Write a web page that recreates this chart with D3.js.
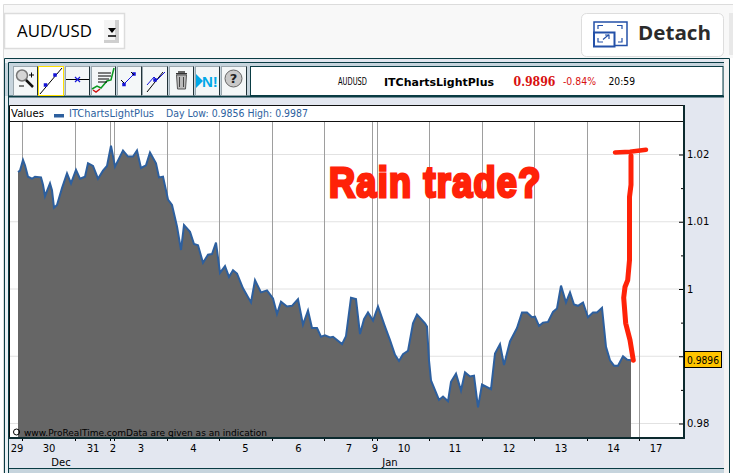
<!DOCTYPE html>
<html><head><meta charset="utf-8">
<script src="https://cdn.jsdelivr.net/npm/d3@7/dist/d3.min.js"></script>
<style>html,body{margin:0;padding:0;background:#fff;overflow:hidden}svg{display:block}</style>
</head><body><svg id="c" width="733" height="473"></svg>
<script>
const symbolName = "AUD/USD";
const tickerName = "AUDUSD";
const feedName = "ITChartsLightPlus";
const lastPrice = 0.9896;
const lastText = "0.9896";
const changeText = "-0.84%";
const timeText = "20:59";
const dayRange = "Day Low: 0.9856 High: 0.9987";
const noticeText = "www.ProRealTime.comData are given as an indication";
const annotationText = "Rain trade?";

// timeline position of each reading (one unit per bar) and its price
const bars = [0,2,5,7,10,14,17,23,25,27,32,34,36,39,44,49,53,58,62,67,70,75,80,85,89,93,97,105,110,115,119,123,128,132,138,141,145,150,154,159,163,166,172,176,180,185,190,194,198,202,207,211,215,219,225,233,237,243,249,255,259,263,269,274,280,285,290,294,299,303,307,312,315,324,328,333,338,342,346,350,355,360,367,372,377,381,385,390,395,399,407,409,411,413,421,425,430,433,438,443,447,452,456,460,464,473,477,482,486,492,499,504,509,514,517,521,525,530,535,539,543,548,552,556,560,565,570,575,579,584,588,592,596,600,605,609,613];
const prices = [1.0174,1.0176,1.0192,1.0184,1.0167,1.0164,1.0167,1.0166,1.0155,1.0138,1.0157,1.0147,1.0121,1.0125,1.0150,1.0172,1.0157,1.0177,1.0164,1.0167,1.0187,1.0183,1.0164,1.0176,1.0183,1.0213,1.0182,1.0206,1.0197,1.0197,1.0206,1.0180,1.0184,1.0203,1.0187,1.0166,1.0167,1.0133,1.0125,1.0093,1.0058,1.0095,1.0085,1.0067,1.0065,1.0039,1.0051,1.0052,1.0069,1.0024,1.0034,1.0018,1.0028,1.0023,1.0001,0.9980,1.0013,0.9995,0.9998,0.9986,0.9963,0.9981,0.9974,0.9975,0.9985,0.9947,0.9968,0.9942,0.9942,0.9929,0.9931,0.9928,0.9929,0.9918,0.9930,0.9987,0.9985,0.9933,0.9955,0.9965,0.9953,0.9974,0.9944,0.9924,0.9902,0.9893,0.9903,0.9908,0.9949,0.9962,0.9949,0.9944,0.9894,0.9864,0.9835,0.9840,0.9833,0.9862,0.9874,0.9849,0.9876,0.9870,0.9871,0.9824,0.9858,0.9851,0.9904,0.9918,0.9887,0.9922,0.9942,0.9965,0.9965,0.9958,0.9959,0.9945,0.9950,0.9951,0.9966,0.9971,1.0005,0.9980,0.9995,0.9977,0.9975,0.9980,0.9958,0.9965,0.9965,0.9972,0.9914,0.9894,0.9886,0.9886,0.9900,0.9895,0.9894];

const sessionBars = [4,57,92,96,149,201,254,306,354,359,411,464,516,569,621];
const dayLabels = ["29","30","31","2","3","4","5","6","7","9","10","11","12","13","14","17"];
const dayLabelBars = [-1,31,75,95,123,175.5,227.5,280.5,331,357,386,437,491,543,595.5,638];
const monthLabels = ["Dec","Jan"];
const monthLabelBars = [43,372];
const priceTicks = [1.02,1.01,1,0.99,0.98];
const priceTickLabels = ["1.02","1.01","1","","0.98"];
const minorTicks = [1.015,1.005,0.995,0.985];

// hand-drawn annotation, in chart units
const capBars = [597,612,628];
const capPrices = [1.0203,1.0204,1.0207];
const strokeBars = [613,613,611.5,611.5,609.7,607,605.7,607.7,612,615.3];
const strokePrices = [1.0198,1.0155,1.0137,1.0043,1.0013,1.0003,0.9987,0.9949,0.9924,0.9894];

const svg = d3.select("#c");
const UI = "'DejaVu Sans',sans-serif";
const teal = "#0a3c44";
const rect = (x,y,w,h,fill,stroke,sw) => svg.append("rect").attr("x",x).attr("y",y).attr("width",w).attr("height",h)
  .attr("fill",fill).attr("stroke",stroke||"none").attr("stroke-width",sw||0);
const text = (x,y,s,size,opt={}) => { const t = svg.append("text").attr("x",x).attr("y",y).text(s)
  .attr("font-family",opt.family||UI).attr("font-size",size).attr("fill",opt.fill||"#000")
  .attr("font-weight",opt.weight||"normal").attr("text-anchor",opt.anchor||"start");
  if(opt.len) t.attr("textLength",opt.len).attr("lengthAdjust",opt.adjust||"spacingAndGlyphs"); return t; };
const path = (d,stroke,sw,fill) => svg.append("path").attr("d",d).attr("fill",fill||"none").attr("stroke",stroke||"none").attr("stroke-width",sw||0);

// page chrome
rect(4,5,729,53,"#f8f8f8");
path("M3.5 473V4.5H733","#dcdcdc",1);
rect(729,13,4,42,"#e8e8e8");
rect(4.5,13.5,120,35,"#fff","#dcdcdc",1.5);
text(17,37,symbolName,16.5,{family:"'Open Sans',sans-serif",len:75});
rect(104,20,15,23,"#cfcfcf");
rect(104,20,11,20,"#f4f4f4");
path("M108 28h8l-4 5z","#000",0,"#000");
path("M108 36h8","#000",1.5);
// detach button
rect(581.5,13.5,142,43,"#fff","#dddddd",1).attr("rx",5);
svg.append("g").attr("fill","none").attr("stroke","#2350a8").attr("stroke-width",1.5).call(g=>{
  g.append("rect").attr("x",594).attr("y",22).attr("width",33).attr("height",23.5);
  g.append("rect").attr("x",594).attr("y",32.5).attr("width",20.5).attr("height",14).attr("fill","#fff").attr("stroke-width",2);
  g.append("path").attr("d","M598 29v-3.500h5M617 25.500h5v3.500M622 38v4h-4M598 38v4h5M603 39.500l6-5M605 35h4v4").attr("stroke-width",1.2);
});
text(638,40,"Detach",20,{family:"'Open Sans',sans-serif",weight:"bold",fill:"#2b2b2b",len:73});

// application frame
rect(4,58,725,415,"#e3e7f0");
rect(724,58,5,415,"#f3f3f3");
rect(4,58,5,415,"#eaf0f4");
rect(4,63,720,33,"#c6d4dd");
path("M4.500 473V58.500H729.500V473",teal,1);
path("M8.500 473V62.500H724",teal,1);
path("M9 96.500H724",teal,2);
rect(9,468,715,1,teal);
rect(9,469,715,4,"#c6d4dd");

// toolbar buttons
const btnX = [13,38,65,91,117,142,169,195,221], btnW = [24,25,24,24,24,25,24,24,25];
btnX.forEach((x,i)=>{
  rect(x+.5,66.5,btnW[i],29,i==1?"#fff":"#f4f7f8",i==1?"#ffe000":"#9aa7ae",1);
  if(i!=1) path(`M${x+btnW[i]+.5} 66.500V95.500`,"#22343a",1);
});
const ib = "#1414d8";
const dot = (x,y,s=3.5)=>rect(x-s/2,y-s/2,s,s,ib);
// magnifier
svg.append("circle").attr("cx",22).attr("cy",75.500).attr("r",5.5).attr("fill","#d5d5d5").attr("stroke","#777").attr("stroke-width",1.5);
path("M26 80l7 7","#111",2.5); path("M29 75h5M31.500 72.500v5M19 86h5","#000",1);
// line tools
path("M40 94L62 68","#000",1); dot(45.500,85); dot(55,75);
path("M66 79.500H89","#000",1); path("M75 77l5 5M80 77l-5 5",ib,1.2);
path("M92 89l5-3 4 2 6-7 4-1 3-12","#0a9a20",1.5);path("M93 90l3 2 4-3","#d01010",1.5);
path("M98 73h13M98 76h13M98 79h11M98 82h9","#000",1);
dot(124,84.500); dot(134,74); path("M124 84l10-10",ib,1,"none"); path("M121 80l3 3M131 72l3 3","#000",1);
path("M147 92l16-20","#000",1); path("M147 85l7-8 3 3 8-8",ib,1); dot(155,80);
// trash
rect(176,73,11,1.5,"#333");rect(178,71,7,2,"#666");
path("M176.500 75h10l-1 14h-8z","#555",1,"#bbb"); path("M179.500 77v10M183.500 77v10","#444",1);
// N!
path("M196 74v14l7-7z","none",0,"#00a8e8");
text(202,87,"N!",15,{fill:"#00a8e8",family:"'Liberation Sans',sans-serif",weight:"bold"});
// help
svg.append("circle").attr("cx",233.5).attr("cy",78.5).attr("r",8.5).attr("fill","#c9c9c9").attr("stroke","#666").attr("stroke-width",1);
text(233.5,83,"?",13,{anchor:"middle",weight:"bold",fill:"#222"});

// ticker box
rect(250.5,66.5,472.5,29,"#fff",teal,1);
text(338,85,tickerName,10,{len:29});
text(384,86,feedName,11,{weight:"bold",len:110});
text(513.5,86,lastText,12,{weight:"bold",fill:"#d81010",family:"'DejaVu Serif',serif",len:42});
text(563,85,changeText,10,{fill:"#d81010",len:33});
text(608.5,85,timeText,10,{len:26.5});

// chart box
const plotLeft=9,plotRight=684,plotTop=105,headerBottom=121,plotBottom=438;
rect(plotLeft,plotTop,plotRight-plotLeft,plotBottom-plotTop,"#fff");
const x = d3.scaleLinear().domain([0,666]).range([18,684]);
const y = d3.scaleLinear().domain([0.98,1.02]).range([423.5,154.5]);
const snap = v => Math.round(v)+.5;

// grid
svg.append("g").selectAll("line").data(priceTicks).join("line")
  .attr("x1",plotLeft+1).attr("x2",plotRight).attr("y1",d=>y(d)).attr("y2",d=>y(d))
  .attr("stroke","#e2e2e2").attr("stroke-width",1);
svg.append("g").selectAll("line").data(sessionBars).join("line")
  .attr("x1",d=>snap(x(d))).attr("x2",d=>snap(x(d))).attr("y1",headerBottom).attr("y2",plotBottom)
  .attr("stroke","#9e9e9e").attr("stroke-width",1);

// area and line
const series = bars.map((b,i)=>[b,prices[i]]);
svg.append("path").datum(series).attr("fill","#666666")
  .attr("d",d3.area().x(d=>x(d[0])).y0(plotBottom).y1(d=>y(d[1])));
svg.append("path").datum(series).attr("fill","none").attr("stroke","#2d5f9e").attr("stroke-width",2)
  .attr("d",d3.line().x(d=>x(d[0])).y(d=>y(d[1])));

// notice
svg.append("circle").attr("cx",16.5).attr("cy",432).attr("r",3).attr("fill","none").attr("stroke","#000").attr("stroke-width",1);
text(24,436,noticeText,9.5,{fill:"#000",len:243});

// frame of the plot
path(`M${plotLeft+.5} ${plotBottom}V${plotTop+.5}H${plotRight}`,"#111",1);
svg.append("line").attr("x1",plotLeft).attr("x2",plotRight).attr("y1",headerBottom+.5).attr("y2",headerBottom+.5).attr("stroke","#111");

// axes
const yAxis = d3.axisRight(y).tickValues(priceTicks).tickSize(-5).tickPadding(3)
  .tickFormat((d,i)=>priceTickLabels[i]);
const yg = svg.append("g").attr("transform",`translate(${plotRight},0)`).call(yAxis);
yg.select(".domain").remove();
yg.selectAll("text").attr("font-family",UI).attr("font-size",10).attr("fill","#000");
yg.selectAll("line").attr("stroke","#000");
const ym = svg.append("g").attr("transform",`translate(${plotRight},0)`)
  .call(d3.axisRight(y).tickValues(minorTicks).tickSize(-3).tickFormat(""));
ym.select(".domain").remove();

const xg = svg.append("g").attr("transform",`translate(0,${plotBottom})`)
  .call(d3.axisBottom(x).tickValues(sessionBars).tickSize(3).tickFormat(""));
xg.select(".domain").remove();
xg.selectAll("line").attr("stroke","#000").attr("transform",d=>`translate(${snap(x(d))-x(d)-.5},0)`);
path(`M${plotRight} ${plotTop}V${plotBottom+1}M${plotLeft} ${plotBottom}H${plotRight+1}`,"#0c2a2e",2);

svg.append("g").selectAll("text").data(dayLabels).join("text")
  .attr("x",(d,i)=>x(dayLabelBars[i])).attr("y",452).attr("text-anchor","middle")
  .attr("font-family",UI).attr("font-size",10).text(d=>d);
svg.append("g").selectAll("text").data(monthLabels).join("text")
  .attr("x",(d,i)=>x(monthLabelBars[i])).attr("y",466).attr("text-anchor","middle")
  .attr("font-family",UI).attr("font-size",10).text(d=>d);

// header row
text(11,117,"Values",10,{len:33});
rect(54,114,10,3.5,"#2d5f9e");
text(69,117,feedName,10,{fill:"#2d5f9e",len:85});
text(166,117,dayRange,10,{fill:"#2d5f9e",len:142});

// last price badge
rect(684.5,351.5,37,16,"#ffc400","#000",1);
text(687,363.5,lastText,10,{len:32});

// annotation
const red="#ff2208";
const hand = d3.line().x(d=>x(d[0])).y(d=>y(d[1]));
svg.append("path").attr("d",hand(capBars.map((b,i)=>[b,capPrices[i]]))).attr("fill","none").attr("stroke",red).attr("stroke-width",4.5).attr("stroke-linecap","round");
svg.append("path").attr("d",hand(strokeBars.map((b,i)=>[b,strokePrices[i]]))).attr("fill","none").attr("stroke",red).attr("stroke-width",5).attr("stroke-linecap","round");
text(0,0,annotationText,43,{family:"'Liberation Sans',sans-serif",weight:"bold",fill:red})
  .attr("transform","translate(329,197) scale(0.84,1)")
  .attr("letter-spacing",1.5).attr("stroke",red).attr("stroke-width",3);
</script></body></html>
